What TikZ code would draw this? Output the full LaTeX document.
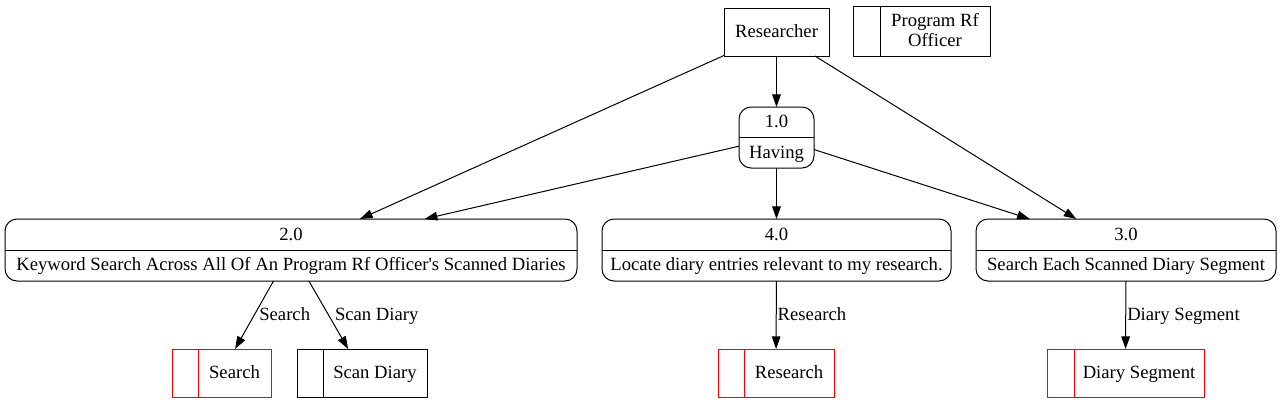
\documentclass[tikz,border=0pt]{standalone}
\usepackage{fontspec}
\setmainfont{Liberation Serif}
\usetikzlibrary{arrows.meta}
\begin{document}
\begin{tikzpicture}[x=0.75pt,y=-0.75pt,
  font=\fontsize{14pt}{15pt}\selectfont,
  sz/.style 2 args={minimum width=#1*0.75pt, minimum height=#2*0.75pt},
  box/.style={draw, line width=0.75pt, inner sep=0pt, outer sep=0pt},
  proc/.style={box, rounded corners=9pt},
  redstore/.style={box, draw=red},
  blkstore/.style={box},
  txt/.style={inner sep=0pt, anchor=base},
  flow/.style={line width=0.75pt, -{Triangle[length=9.5pt,width=6.5pt]}},
  lbl/.style={anchor=base west, inner sep=0pt, yshift=-3.75pt}
]
\useasboundingbox (0,0) rectangle (1281,404);
% external entity
\node[box, sz={105}{48}] (res) at (776.5,32) {};
\node[txt] (restxt) at (776.5,37) {Researcher};
% store program rf officer
\node[blkstore, sz={137}{50}] (pro) at (921.5,31) {};
\draw[line width=0.75pt] ([xshift=20.25pt]pro.north west) -- ([xshift=20.25pt]pro.south west);
\node[txt] (protxt1) at (935,26) {Program Rf};
\node[txt] (protxt2) at (935,46) {Officer};
% processes
\node[proc, sz={75}{61}] (p1) at (776.5,137.5) {};
\draw[line width=0.75pt] (p1.west) -- (p1.east);
\node[txt] (p1a) at (776.5,127) {1.0};
\node[txt] (p1b) at (776.5,158) {Having};

\node[proc, sz={572}{62}] (p2) at (291,250) {};
\draw[line width=0.75pt] (p2.west) -- (p2.east);
\node[txt] (p2a) at (291,240) {2.0};
\node[txt] (p2b) at (291,270) {Keyword Search Across All Of An Program Rf Officer\textquotesingle s Scanned Diaries};

\node[proc, sz={349}{62}] (p4) at (776.5,250) {};
\draw[line width=0.75pt] (p4.west) -- (p4.east);
\node[txt] (p4a) at (776.5,240) {4.0};
\node[txt] (p4b) at (776.5,270) {Locate diary entries relevant to my research.};

\node[proc, sz={300}{62}] (p3) at (1126,250) {};
\draw[line width=0.75pt] (p3.west) -- (p3.east);
\node[txt] (p3a) at (1126,240) {3.0};
\node[txt] (p3b) at (1126,270) {Search Each Scanned Diary Segment};
% stores
\node[redstore, sz={99}{48}] (sS) at (221.5,373) {};
\draw[line width=0.75pt, red] ([xshift=19.5pt]sS.north west) -- ([xshift=19.5pt]sS.south west);
\node[txt] (sStxt) at (234.5,378) {Search};

\node[blkstore, sz={130}{48}] (sC) at (362,373) {};
\draw[line width=0.75pt] ([xshift=19.5pt]sC.north west) -- ([xshift=19.5pt]sC.south west);
\node[txt] (sCtxt) at (375,378) {Scan Diary};

\node[redstore, sz={116}{48}] (sR) at (776,373) {};
\draw[line width=0.75pt, red] ([xshift=19.5pt]sR.north west) -- ([xshift=19.5pt]sR.south west);
\node[txt] (sRtxt) at (789,378) {Research};

\node[redstore, sz={157}{48}] (sD) at (1125.5,373) {};
\draw[line width=0.75pt, red] ([xshift=20.25pt]sD.north west) -- ([xshift=20.25pt]sD.south west);
\node[txt] (sDtxt) at (1139,378) {Diary Segment};
% flows
\draw[flow] (res) -- (p1);
\draw[flow] (res) -- (p2);
\draw[flow] (res) -- (p3);
\draw[flow] (p1) -- (p2);
\draw[flow] (p1) -- (p4);
\draw[flow] (p1) -- (p3);
\draw[flow] (p2) -- node[lbl, xshift=3.4pt] (l1) {Search} (sS);
\draw[flow] (p2) -- node[lbl, xshift=4.5pt] (l2) {Scan Diary} (sC);
\draw[flow] (p4) -- node[lbl, xshift=0.75pt] (l3) {Research} (sR);
\draw[flow] (p3) -- node[lbl, xshift=0.75pt] (l4) {Diary Segment} (sD);
\end{tikzpicture}
\end{document}
